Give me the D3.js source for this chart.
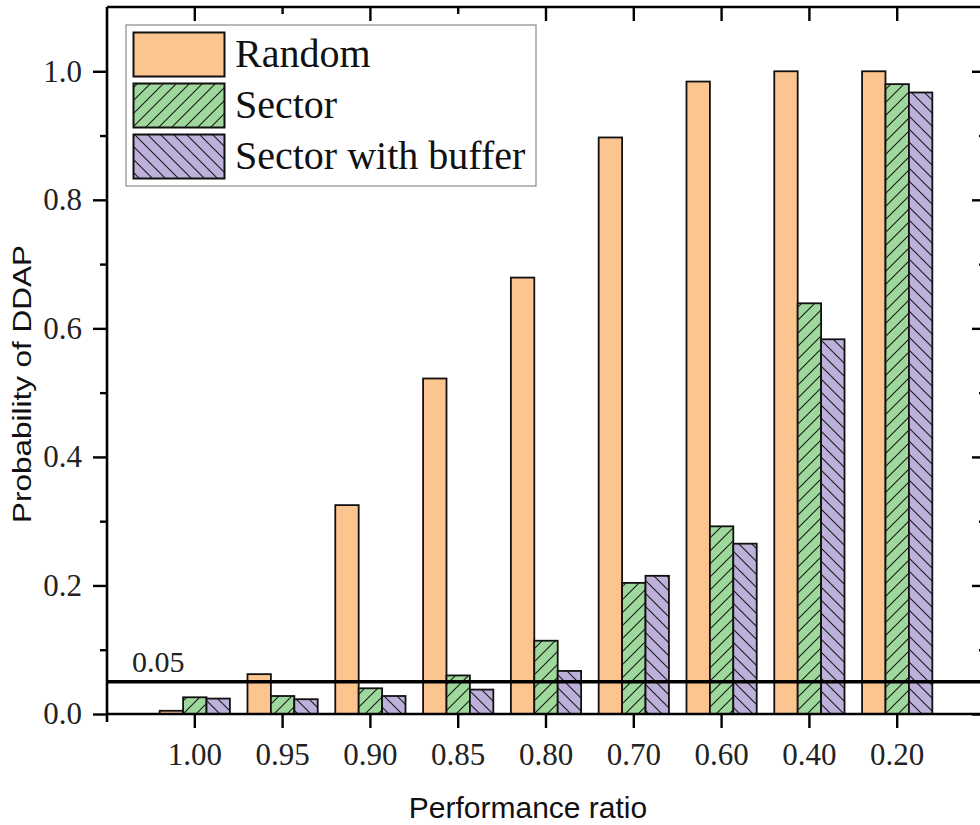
<!DOCTYPE html>
<html>
<head>
<meta charset="utf-8">
<script src="https://cdn.jsdelivr.net/npm/d3@7"></script>
<style>
  body { margin: 0; background: #fff; }
  svg { display: block; }
  .serif { font-family: "Liberation Serif", "Times New Roman", serif; }
  .sans { font-family: "Liberation Sans", Arial, sans-serif; }
</style>
</head>
<body>
<div id="chart"></div>
<script>
// Chart data
var categories = ["1.00", "0.95", "0.90", "0.85", "0.80", "0.70", "0.60", "0.40", "0.20"];
var seriesNames = ["Random", "Sector", "Sector with buffer"];
var randomValues = [0.005, 0.062, 0.325, 0.522, 0.679, 0.897, 0.984, 1.0, 1.0];
var sectorValues = [0.026, 0.028, 0.040, 0.060, 0.114, 0.204, 0.292, 0.639, 0.980];
var bufferValues = [0.024, 0.023, 0.028, 0.038, 0.067, 0.215, 0.265, 0.583, 0.967];
var yMajorTicks = [0, 0.2, 0.4, 0.6, 0.8, 1.0];
var yMinorTicks = [0.1, 0.3, 0.5, 0.7, 0.9];
var threshold = 0.05;

var svgWidth = 980;
var svgHeight = 825;

// plot frame (right edge runs just past the picture)
var plotLeft = 107, plotRight = 985, plotTop = 7, plotBottom = 714;

var svg = d3.select("#chart")
    .append("svg")
    .attr("width", svgWidth)
    .attr("height", svgHeight);

// Hatch patterns for the two sector series
var defs = svg.append("defs");

function addHatch(id, fill, forward) {
    var s = 13;
    var p = defs.append("pattern")
        .attr("id", id)
        .attr("patternUnits", "userSpaceOnUse")
        .attr("width", s)
        .attr("height", s);
    p.append("rect")
        .attr("width", s)
        .attr("height", s)
        .attr("fill", fill);
    var d = forward
        ? `M0,${s} L${s},0 M${-s / 2},${s / 2} L${s / 2},${-s / 2} M${s / 2},${s * 1.5} L${s * 1.5},${s / 2}`
        : `M0,0 L${s},${s} M${-s / 2},${s / 2} L${s / 2},${s * 1.5} M${s / 2},${-s / 2} L${s * 1.5},${s / 2}`;
    p.append("path")
        .attr("d", d)
        .attr("stroke", "#1a1a1a")
        .attr("stroke-width", 1.1);
}

var colors = ["#fcc590", "#9fd89c", "#bdb0da"];
addHatch("hatchSector", colors[1], true);
addHatch("hatchBuffer", colors[2], false);
var fills = [colors[0], "url(#hatchSector)", "url(#hatchBuffer)"];

// Scales
var x0 = d3.scaleBand()
    .domain(categories)
    .range([plotLeft, plotRight])
    .paddingInner(0.2)
    .paddingOuter(0.6);

var x1 = d3.scaleBand()
    .domain(seriesNames)
    .range([0, x0.bandwidth()]);

var y = d3.scaleLinear()
    .domain([0, 1.1])
    .range([plotBottom, plotTop]);

var allValues = [randomValues, sectorValues, bufferValues];

// Bars
var series = svg.append("g").selectAll("g")
    .data(seriesNames)
    .enter()
    .append("g")
    .attr("fill", (d, i) => fills[i]);

series.selectAll("rect")
    .data((name, i) => allValues[i].map((v, j) => ({ cat: categories[j], name: name, value: v })))
    .enter()
    .append("rect")
    .attr("x", d => x0(d.cat) + x1(d.name))
    .attr("y", d => y(d.value))
    .attr("width", x1.bandwidth())
    .attr("height", d => y(0) - y(d.value))
    .attr("stroke", "#111")
    .attr("stroke-width", 1.8);

// Threshold line
svg.append("line")
    .attr("x1", plotLeft)
    .attr("x2", svgWidth)
    .attr("y1", y(threshold))
    .attr("y2", y(threshold))
    .attr("stroke", "#000")
    .attr("stroke-width", 3.5);

svg.append("text")
    .attr("class", "serif")
    .attr("x", 132)
    .attr("y", y(threshold) - 10)
    .attr("font-size", 30)
    .attr("fill", "#222")
    .text("0.05");

// Axes
function styleAxis(g) {
    g.select(".domain").attr("stroke", "#000").attr("stroke-width", 2.6);
    g.selectAll(".tick line").attr("stroke", "#000").attr("stroke-width", 2.4);
    g.selectAll(".tick text")
        .attr("class", "serif")
        .attr("font-size", 31)
        .attr("fill", "#222");
}

// left axis, major and minor ticks
svg.append("g")
    .attr("transform", `translate(${plotLeft},0)`)
    .call(d3.axisLeft(y).tickValues(yMajorTicks).tickFormat(d3.format(".1f"))
        .tickSize(14).tickSizeOuter(0).tickPadding(11))
    .call(styleAxis)
    .call(g => g.select(".domain").attr("d", `M0,${plotTop}V${plotBottom + 8}`));

svg.append("g")
    .attr("transform", `translate(${plotLeft},0)`)
    .call(d3.axisLeft(y).tickValues(yMinorTicks).tickFormat("").tickSize(7).tickSizeOuter(0))
    .call(styleAxis)
    .call(g => g.select(".domain").remove());

// right axis, ticks pointing in
svg.append("g")
    .attr("transform", `translate(${plotRight},0)`)
    .call(d3.axisLeft(y).tickValues(yMajorTicks).tickFormat("").tickSize(-13).tickSizeOuter(0))
    .call(styleAxis)
    .call(g => g.selectAll(".tick line").attr("x2", -13));

svg.append("g")
    .attr("transform", `translate(${plotRight},0)`)
    .call(d3.axisLeft(y).tickValues(yMinorTicks).tickFormat("").tickSize(-6).tickSizeOuter(0))
    .call(styleAxis)
    .call(g => g.selectAll(".tick line").attr("x2", -6))
    .call(g => g.select(".domain").remove());

// bottom axis
svg.append("g")
    .attr("transform", `translate(0,${plotBottom})`)
    .call(d3.axisBottom(x0).tickSize(14).tickSizeOuter(0).tickPadding(15))
    .call(styleAxis)
    .call(g => g.select(".domain").attr("d", `M${plotLeft},0H${svgWidth + 10}`));

// top axis, ticks pointing down
var shortTop = ["0.95", "0.85"];
svg.append("g")
    .attr("transform", `translate(0,${plotTop})`)
    .call(d3.axisTop(x0).tickFormat("").tickSize(0).tickSizeOuter(0))
    .call(styleAxis)
    .call(g => g.select(".domain").attr("d", `M${plotLeft},0H${svgWidth + 10}`))
    .call(g => g.selectAll(".tick line").attr("y2", d => shortTop.includes(d) ? 7 : 14));

// Axis titles
svg.append("text")
    .attr("class", "sans")
    .attr("transform", `translate(31,384) rotate(-90)`)
    .attr("text-anchor", "middle")
    .attr("font-size", 26)
    .attr("textLength", 278)
    .attr("lengthAdjust", "spacingAndGlyphs")
    .attr("fill", "#111")
    .text("Probability of DDAP");

svg.append("text")
    .attr("class", "sans")
    .attr("x", 528)
    .attr("y", 818)
    .attr("text-anchor", "middle")
    .attr("font-size", 30)
    .attr("fill", "#111")
    .text("Performance ratio");

// Legend
var legend = svg.append("g");
legend.append("rect")
    .attr("x", 126)
    .attr("y", 25)
    .attr("width", 410)
    .attr("height", 161)
    .attr("fill", "#fff")
    .attr("stroke", "#8a8a8a")
    .attr("stroke-width", 1.2);

var legendRows = [32.5, 83.5, 134.5];
seriesNames.forEach(function(name, i) {
    legend.append("rect")
        .attr("x", 133.5)
        .attr("y", legendRows[i])
        .attr("width", 91)
        .attr("height", 44)
        .attr("fill", fills[i])
        .attr("stroke", "#111")
        .attr("stroke-width", 2);
    legend.append("text")
        .attr("class", "serif")
        .attr("x", 235)
        .attr("y", legendRows[i] + 34)
        .attr("font-size", 40)
        .attr("fill", "#111")
        .text(name);
});
</script>
</body>
</html>
